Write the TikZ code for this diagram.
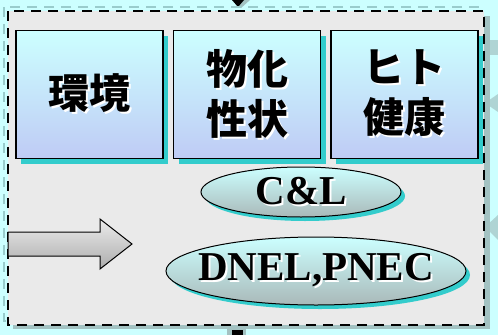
\documentclass[tikz,border=0pt]{standalone}
\usepackage{fontspec}
\setmainfont{Liberation Serif}
\newfontfamily\cjk{Noto Sans CJK JP}
\usepackage{tikz}
\usetikzlibrary{positioning,shadows,shapes.geometric}
\definecolor{bgcyan}{HTML}{CCFFFF}
\definecolor{panelgray}{HTML}{EAEAEA}
\definecolor{panelshadow}{HTML}{A3C2C2}
\definecolor{dashteal}{HTML}{99CCCC}
\definecolor{boxtop}{HTML}{CCFFFF}
\definecolor{boxbottom}{HTML}{BFCBF5}
\definecolor{boxshadow}{HTML}{33CCCC}
\definecolor{elltop}{HTML}{CCFFFF}
\definecolor{ellbottom}{HTML}{A9B9B9}
\newcommand{\emb}[1]{\leavevmode\rlap{\kern2pt\raisebox{-2pt}{\color{white}#1}}#1}

\begin{document}
\begin{tikzpicture}[
    x=1pt, y=-1pt,
    node distance=9pt,
    >=latex,
    sbox/.style={draw, line width=1.5pt, minimum width=147pt, minimum height=128pt, inner sep=0pt,
        top color=boxtop, bottom color=boxbottom, align=center,
        font=\cjk\bfseries\fontsize{41}{50}\selectfont,
        drop shadow={shadow xshift=5pt, shadow yshift=-5pt, fill=boxshadow, opacity=1}},
    sell/.style={ellipse, draw, line width=1pt, inner sep=0pt,
        top color=elltop, bottom color=ellbottom,
        font=\bfseries\fontsize{41}{41}\selectfont,
        drop shadow={shadow xshift=4pt, shadow yshift=-4pt, fill=boxshadow, opacity=1}},
    pdash/.style={dash pattern=on 10pt off 7pt, line width=2.5pt}
]
    \useasboundingbox (0,0) rectangle (498,335);
    \fill[bgcyan] (0,0) rectangle (498,335);

    % Cut-off arrows outside the panel
    \fill[panelshadow] (232,0) -- (250,0) -- (241,8) -- cycle;
    \fill[black] (232,0) -- (244,0) -- (238,7) -- cycle;
    \fill[panelshadow] (227,328) rectangle (246,335);
    \fill[black] (232,330) rectangle (243,335);
    \fill[panelshadow!70!bgcyan] (485,40) rectangle (498,55);
    \fill[panelshadow!70!bgcyan] (485,103) -- (498,94) -- (498,112) -- cycle;
    \fill[panelshadow!70!bgcyan] (485,227) -- (498,215) -- (498,240) -- cycle;

    % Panel
    \draw[dashteal, pdash] (4,7) rectangle (480,321);
    \fill[panelshadow] (13,16) rectangle (490,329);
    \fill[panelgray] (8,11) rectangle (484,325);
    \draw[pdash] (8,11) rectangle (484,325);

    % Boxes
    \node[sbox] (env) at (89.5,94.5) {\emb{環境}};
    \node[sbox, right=of env] (phys) {\emb{物化}\\\emb{性状}};
    \node[sbox, right=of phys] (human) {\emb{ヒト}\\\emb{健康}};

    % Ellipses
    \node[sell, minimum width=200pt, minimum height=50pt] (cl) at (301,192) {\makebox[0pt]{\emb{C\&L}}};
    \node[sell, minimum width=300pt, minimum height=68pt] (dnel) at (316,271) {\makebox[0pt]{\emb{DNEL,PNEC}}};

    % Block arrow
    \draw[line width=1pt, top color=gray!15, bottom color=gray!65]
        (8,232) -- (100,232) -- (100,219) -- (132,244) -- (100,269) -- (100,256) -- (8,256) -- cycle;
\end{tikzpicture}
\end{document}
